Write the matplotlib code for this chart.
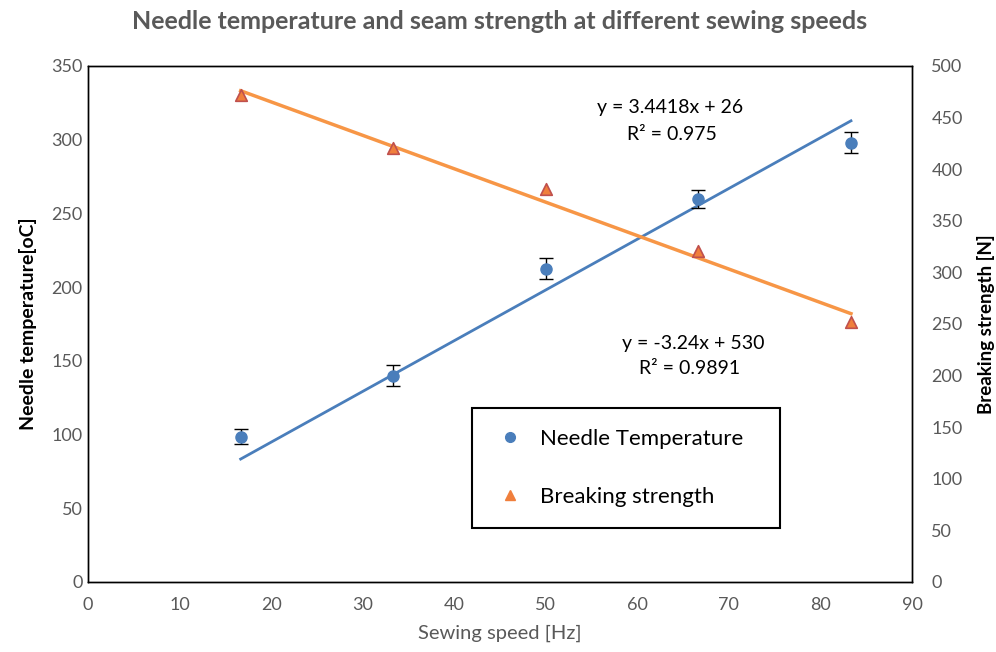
import numpy as np
import matplotlib.pyplot as plt
from matplotlib.lines import Line2D

plt.rcParams['font.family'] = ['Lato', 'DejaVu Sans']

speed = [16.67, 33.33, 50.0, 66.67, 83.33]
needle_temp = [98.5, 140, 212.5, 260, 298]
temp_err = [5, 7, 7, 6, 7]
break_strength = [472, 421, 381, 321, 252]

# trendline coefficients as printed on the chart
temp_fit = (3.4418, 26)
strength_fit = (-3.24, 530)

blue = '#4A7EBB'
orange = '#F79646'
tri_fill = '#F07F3C'
tri_edge = '#C0504D'
grey = '#595959'

fig = plt.figure(figsize=(9.96, 6.52), dpi=100)
ax = fig.add_axes([0.0884, 0.1074, 0.8273, 0.7914])
ax2 = ax.twinx()

x_line = np.array([speed[0], speed[-1]])
ax.plot(x_line, temp_fit[0] * x_line + temp_fit[1], color=blue, lw=2.0, zorder=2)
ax.errorbar(speed, needle_temp, yerr=temp_err, fmt='o', color=blue, ms=8,
            ecolor='black', elinewidth=1, capsize=5, capthick=1, zorder=3)

ax2.plot(x_line, strength_fit[0] * x_line + strength_fit[1], color=orange, lw=2.5, zorder=2)
ax2.scatter(speed, break_strength, marker='^', s=70, color=tri_fill,
            edgecolor=tri_edge, linewidth=1.2, zorder=3)

ax.set_xlim(0, 90)
ax.set_ylim(0, 350)
ax2.set_ylim(0, 500)
ax.set_xticks(np.arange(0, 91, 10))
ax.set_yticks(np.arange(0, 351, 50))
ax2.set_yticks(np.arange(0, 501, 50))

for a in (ax, ax2):
    a.tick_params(length=0, labelsize=13, labelcolor=grey)
    for s in a.spines.values():
        s.set_color('black')
        s.set_linewidth(1.0)
ax.tick_params(axis='y', pad=4)
ax.tick_params(axis='x', pad=11)
ax2.tick_params(axis='y', pad=14)

ax.set_xlabel('Sewing speed [Hz]', fontsize=14.5, color=grey, labelpad=8)
ax.set_ylabel('Needle temperature[oC]', fontsize=14, fontweight='bold', labelpad=10)
ax2.set_ylabel('Breaking strength [N]', fontsize=13.5, fontweight='bold', labelpad=10)

fig.suptitle('Needle temperature and seam strength at different sewing speeds',
             x=0.502, y=0.985, fontsize=18, fontweight='bold', color=grey)

fig.text(670 / 996, 1 - 108 / 652, 'y = 3.4418x + 26', fontsize=14, ha='center', va='center')
fig.text(672 / 996, 1 - 134 / 652, 'R² = 0.975', fontsize=14, ha='center', va='center')
fig.text(693 / 996, 1 - 343 / 652, 'y = -3.24x + 530', fontsize=14, ha='center', va='center')
fig.text(690 / 996, 1 - 368 / 652, 'R² = 0.9891', fontsize=14, ha='center', va='center')

handles = [Line2D([], [], marker='o', ls='none', color=blue, ms=7),
           Line2D([], [], marker='^', ls='none', color=tri_fill, ms=7)]
leg = ax2.legend(handles, ['Needle Temperature', 'Breaking strength'],
                 loc='upper left', bbox_to_anchor=(0.466, 0.097, 0.374, 0.24),
                 mode='expand', borderaxespad=0, fontsize=16, labelspacing=1.7,
                 borderpad=0.95, handletextpad=0.6, handlelength=1.5,
                 fancybox=False, framealpha=1)
leg.get_frame().set_edgecolor('black')
leg.get_frame().set_linewidth(1.5)

fig.savefig('out.png', dpi=100)
